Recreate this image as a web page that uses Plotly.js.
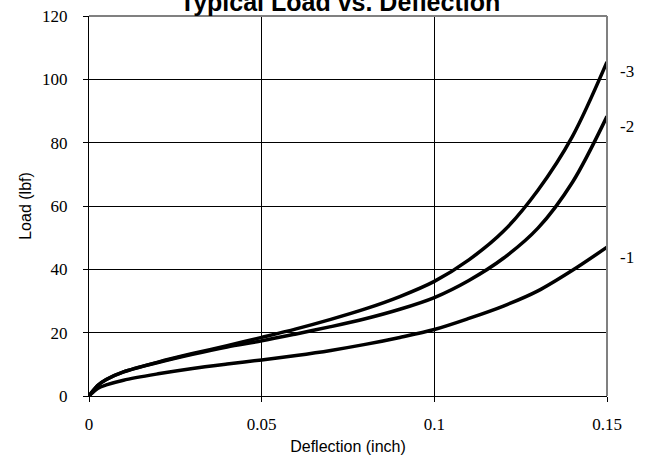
<!DOCTYPE html>
<html>
<head>
<meta charset="utf-8">
<script src="https://cdn.plot.ly/plotly-3.0.1.min.js"></script>
<style>html,body{margin:0;padding:0;background:#fff;}#chart{width:649px;height:464px;}</style>
</head>
<body>
<div id="chart"></div>
<script>
// Deflection (inch)
const deflection = [0, 0.0025, 0.005, 0.01, 0.02, 0.03, 0.04, 0.05, 0.06, 0.07, 0.08, 0.09, 0.10, 0.11, 0.12, 0.13, 0.14, 0.15];
// Load (lbf) for each part number
const load3 = [0, 3.3, 5.2, 7.6, 10.7, 13.4, 15.9, 18.5, 21.2, 24.2, 27.5, 31.4, 36.2, 43.0, 52.0, 65.0, 82.0, 105.5];
const load2 = [0, 3.3, 5.2, 7.6, 10.6, 13.2, 15.5, 17.4, 19.6, 21.9, 24.4, 27.4, 31.1, 36.5, 43.5, 53.0, 67.5, 88.3];
const load1 = [0, 2.4, 3.5, 5.0, 7.0, 8.7, 10.1, 11.4, 12.8, 14.4, 16.3, 18.5, 21.0, 24.5, 28.4, 33.2, 39.7, 47.0];
const seriesLabels = ["-3", "-2", "-1"];
const xTicks = [0, 0.05, 0.1, 0.15];
const yTicks = [0, 20, 40, 60, 80, 100, 120];

const serif = "Times New Roman, Liberation Serif, serif";
const sans = "Arial, Liberation Sans, sans-serif";

const allLoads = [load3, load2, load1];
const traces = allLoads.map((ys, i) => ({
  x: deflection, y: ys, type: 'scatter', mode: 'lines',
  line: {color: '#000', width: 3.5, shape: 'spline', smoothing: 0.9},
  name: seriesLabels[i], hoverinfo: 'skip'
}));

const annotations = allLoads.map((ys, i) => ({
  x: deflection[deflection.length - 1], y: ys[ys.length - 1],
  xref: 'x', yref: 'y', text: seriesLabels[i], showarrow: false,
  xanchor: 'left', yanchor: 'middle', xshift: 11, yshift: -10,
  font: {family: serif, size: 17, color: '#000'}
}));

const layout = {
  width: 649, height: 464,
  margin: {l: 89, r: 42, t: 16, b: 68, pad: 0},
  paper_bgcolor: '#fff', plot_bgcolor: '#fff',
  showlegend: false,
  title: {
    text: 'Typical Load vs. Deflection',
    font: {family: sans, size: 25, color: '#000', weight: 700},
    x: 340 / 649, xanchor: 'center', xref: 'container',
    y: 1 - 2.5 / 464, yanchor: 'middle', yref: 'container'
  },
  xaxis: {
    range: [0, 0.15], tickvals: xTicks, ticktext: xTicks.map(String),
    showgrid: true, gridcolor: '#000', gridwidth: 1,
    zeroline: false, showline: true, linecolor: '#000', linewidth: 1,
    ticks: 'outside', ticklen: 5, tickcolor: '#000', tickwidth: 1,
    ticklabelstandoff: 8,
    tickfont: {family: serif, size: 17, color: '#000'},
    title: {text: 'Deflection (inch)', font: {family: sans, size: 16, color: '#000'}, standoff: 7},
    fixedrange: true
  },
  yaxis: {
    range: [0, 120], tickvals: yTicks, ticktext: yTicks.map(String),
    showgrid: true, gridcolor: '#000', gridwidth: 1,
    zeroline: false, showline: true, linecolor: '#000', linewidth: 1,
    ticks: 'outside', ticklen: 5, tickcolor: '#000', tickwidth: 1,
    ticklabelstandoff: 12,
    tickfont: {family: serif, size: 17, color: '#000'},
    title: {text: 'Load (lbf)', font: {family: sans, size: 16, color: '#000'}, standoff: 6},
    fixedrange: true
  },
  shapes: [
    {type: 'line', xref: 'paper', yref: 'paper', x0: 0, x1: 1, y0: 1, y1: 1, line: {color: '#808080', width: 2}},
    {type: 'line', xref: 'paper', yref: 'paper', x0: 1, x1: 1, y0: 0, y1: 1, line: {color: '#808080', width: 2}}
  ],
  annotations: annotations
};

Plotly.newPlot('chart', traces, layout, {staticPlot: true, displayModeBar: false});
</script>
</body>
</html>
